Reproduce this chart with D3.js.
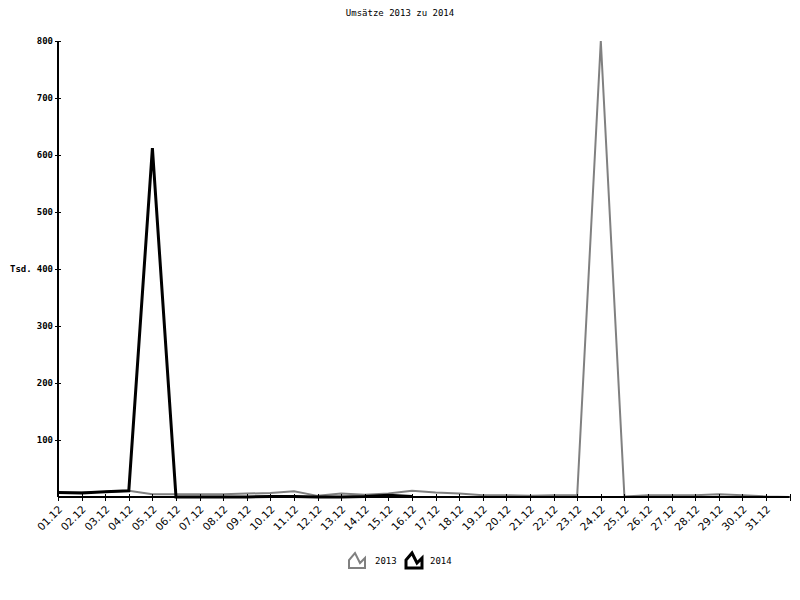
<!DOCTYPE html>
<html>
<head>
<meta charset="utf-8">
<script src="https://cdn.jsdelivr.net/npm/d3@7"></script>
<style>
  body { margin: 0; background: #fff; }
  svg { display: block; }
  .mono { font-family: "DejaVu Sans Mono", monospace; font-size: 9px; }
  .xlab { font-family: "DejaVu Sans", sans-serif; font-size: 10.5px; }
</style>
</head>
<body>
<svg width="800" height="600"></svg>
<script>
// day labels along the x axis
const days = d3.range(1, 32).map((d) => String(d).padStart(2, '0') + '.12');

// sales in thousand
const sales2013 = [8, 8, 9, 11, 5, 5, 5, 5, 6, 7, 10, 2, 6, 4, 6, 11, 8, 6, 3, 3, 2, 3, 3, 800, 1, 3, 3, 3, 5, 3, 1, 0];
const sales2014 = [8, 7, 9, 11, 612, 0, 0, 0, 0, 1, 1, 0, 0, 1, 3, 1];

const yTicks = [100, 200, 300, 400, 500, 600, 700, 800];
const series = [
  { name: '2013', values: sales2013, color: '#808080', width: 2 },
  { name: '2014', values: sales2014, color: '#000', width: 3 },
];

const plotLeft = 58, plotRight = 789.6, plotTop = 41, plotBottom = 497;

const svg = d3.select('svg');

const x = d3.scaleLinear().domain([0, 31]).range([plotLeft, plotRight]);
const y = d3.scaleLinear().domain([0, 800]).range([plotBottom, plotTop]);

svg.append('text')
  .attr('class', 'mono')
  .attr('x', 400).attr('y', 16)
  .attr('text-anchor', 'middle')
  .attr('font-size', 8)
  .text('Umsätze 2013 zu 2014');

// lines first, axes drawn on top
const line = d3.line()
  .x((d, i) => x(i))
  .y((d) => y(d));

series.forEach((s) => {
  svg.append('path')
    .datum(s.values)
    .attr('d', line)
    .attr('fill', 'none')
    .attr('stroke', s.color)
    .attr('stroke-width', s.width)
    .attr('stroke-linejoin', 'miter');
});

// y axis
const yAxis = svg.append('g');
yAxis.append('line')
  .attr('x1', plotLeft).attr('x2', plotLeft)
  .attr('y1', plotTop).attr('y2', plotBottom)
  .attr('stroke', '#000').attr('stroke-width', 2);
yAxis.selectAll('.tick')
  .data(yTicks)
  .join('line')
  .attr('x1', plotLeft - 3).attr('x2', plotLeft + 3)
  .attr('y1', (d) => Math.round(y(d)) + 0.5).attr('y2', (d) => Math.round(y(d)) + 0.5)
  .attr('stroke', '#000');
yAxis.selectAll('text')
  .data(yTicks)
  .join('text')
  .attr('class', 'mono')
  .attr('x', plotLeft - 5)
  .attr('y', (d) => y(d) + 3)
  .attr('text-anchor', 'end')
  .attr('font-weight', 'bold')
  .text((d) => d);

svg.append('text')
  .attr('class', 'mono')
  .attr('x', 10).attr('y', y(400) + 3)
  .attr('font-weight', 'bold')
  .text('Tsd.');

// x axis
const xAxis = svg.append('g');
xAxis.append('line')
  .attr('x1', plotLeft).attr('x2', plotRight)
  .attr('y1', plotBottom).attr('y2', plotBottom)
  .attr('stroke', '#000').attr('stroke-width', 2);
xAxis.selectAll('.tick')
  .data(d3.range(0, 32))
  .join('line')
  .attr('x1', (d) => Math.round(x(d)) + 0.5).attr('x2', (d) => Math.round(x(d)) + 0.5)
  .attr('y1', plotBottom - 3).attr('y2', plotBottom + 4)
  .attr('stroke', '#000');
xAxis.selectAll('text')
  .data(days)
  .join('text')
  .attr('class', 'xlab')
  .attr('text-anchor', 'end')
  .attr('transform', (d, i) => `translate(${x(i) + 5},${plotBottom + 13}) rotate(-45)`)
  .text((d) => d);

// legend
const icon = 'M0,15 L0,7 L6,0 L11,10 L16,5 L16,15 Z';
const legendItems = [
  { s: series[0], x: 349, tx: 375 },
  { s: series[1], x: 406, tx: 430 },
];
legendItems.forEach((l) => {
  svg.append('path')
    .attr('d', icon)
    .attr('transform', `translate(${l.x},${553})`)
    .attr('fill', 'none')
    .attr('stroke', l.s.color)
    .attr('stroke-width', l.s.width);
  svg.append('text')
    .attr('class', 'mono')
    .attr('x', l.tx).attr('y', 564)
    .attr('font-size', 8)
    .text(l.s.name);
});
</script>
</body>
</html>
